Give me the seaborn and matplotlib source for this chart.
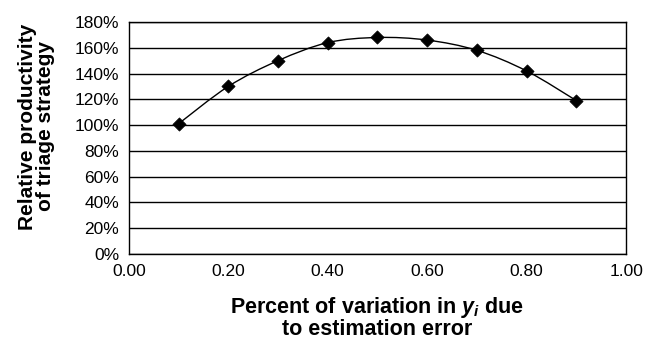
import numpy as np
import pandas as pd
import matplotlib
matplotlib.use('Agg')
import matplotlib.pyplot as plt
from matplotlib.path import Path
from matplotlib.patches import PathPatch
import seaborn as sns

# values
share_error = [0.1, 0.2, 0.3, 0.4, 0.5, 0.6, 0.7, 0.8, 0.9]
rel_productivity = [1.01, 1.30, 1.50, 1.64, 1.68, 1.66, 1.58, 1.42, 1.19]
y_ticks = [0.0, 0.2, 0.4, 0.6, 0.8, 1.0, 1.2, 1.4, 1.6, 1.8]
x_ticks = [0.0, 0.2, 0.4, 0.6, 0.8, 1.0]

df = pd.DataFrame({'share': share_error, 'prod': rel_productivity})

sns.set_style('white')
plt.rcParams['font.family'] = ['Liberation Sans', 'DejaVu Sans']
plt.rcParams['text.color'] = 'black'
plt.rcParams['axes.labelcolor'] = 'black'
plt.rcParams['mathtext.fontset'] = 'custom'
plt.rcParams['mathtext.it'] = 'Liberation Sans:bold:italic'
plt.rcParams['mathtext.rm'] = 'Liberation Sans:bold'

fig = plt.figure(figsize=(6.57, 3.39), dpi=100)
ax = fig.add_axes([0.196, 0.251, 0.757, 0.684])

# smoothed line (Excel-style) via Catmull-Rom -> cubic Bezier segments
pts = df[['share', 'prod']].to_numpy()
verts = [tuple(pts[0])]
codes = [Path.MOVETO]
for i in range(len(pts) - 1):
    p0 = pts[i - 1] if i > 0 else pts[i]
    p1, p2 = pts[i], pts[i + 1]
    p3 = pts[i + 2] if i + 2 < len(pts) else pts[i + 1]
    c1 = p1 + (p2 - p0) / 6
    c2 = p2 - (p3 - p1) / 6
    verts += [tuple(c1), tuple(c2), tuple(p2)]
    codes += [Path.CURVE4] * 3
ax.add_patch(PathPatch(Path(verts, codes), facecolor='none', edgecolor='black', lw=1.0, zorder=3))

sns.scatterplot(data=df, x='share', y='prod', marker='D', color='black', s=45,
                edgecolor='black', zorder=4, ax=ax, legend=False)

ax.set_xlim(0, 1)
ax.set_ylim(0, 1.8)
ax.set_xticks(x_ticks)
ax.set_xticklabels([f'{v:.2f}' for v in x_ticks])
ax.set_yticks(y_ticks)
ax.set_yticklabels([f'{int(round(v * 100))}%' for v in y_ticks])
ax.yaxis.grid(True, color='black', lw=1.0)
ax.set_axisbelow(True)
for s in ax.spines.values():
    s.set_color('black')
    s.set_linewidth(1.0)
ax.tick_params(axis='both', direction='out', length=5, width=1, color='black',
               labelsize=12.5, labelcolor='black', pad=2)

ax.set_xlabel('Percent of variation in $y_i$ due\nto estimation error',
              fontsize=15.5, fontweight='bold', labelpad=12, linespacing=0.95,
              color='black')
ax.set_ylabel('Relative productivity\nof triage strategy',
              fontsize=15, fontweight='bold', linespacing=0.95, color='black')
ax.yaxis.set_label_coords(-0.148, 0.55)

fig.savefig('out.png', dpi=100)
